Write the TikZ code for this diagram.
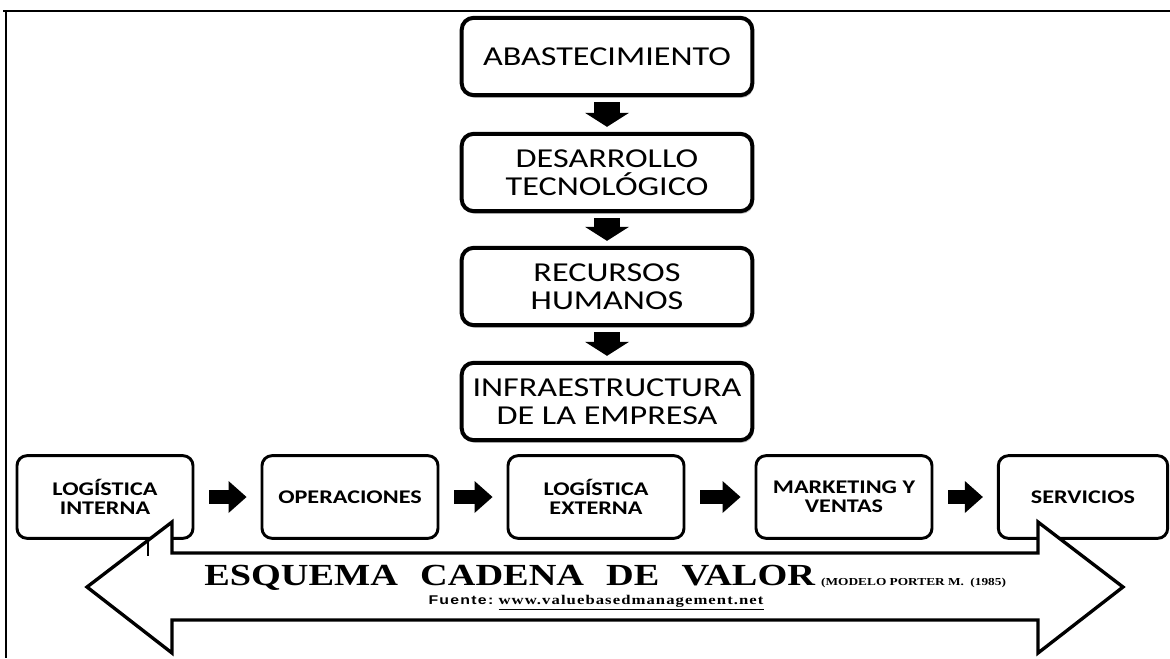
\documentclass[tikz,border=0pt]{standalone}
\usepackage{fontspec}
\usetikzlibrary{arrows.meta,shadows}
\newfontfamily\calibri[FakeStretch=1.25]{Carlito}
\newfontfamily\tiempos[FakeStretch=1.25]{Liberation Serif}
\newfontfamily\arialfont[FakeStretch=1.25]{Liberation Sans}
\tikzset{
  apoyo/.style={draw, line width=3pt, rounded corners=9pt, fill=white,
    minimum width=218pt, minimum height=58pt, align=center, inner sep=0pt,
    font=\calibri\fontsize{20.5}{21}\selectfont,
    drop shadow={shadow xshift=1pt, shadow yshift=-2pt, opacity=.5}},
  primaria/.style={draw, line width=2.2pt, rounded corners=7.5pt, fill=white,
    minimum width=132pt, minimum height=62pt, align=center, inner sep=0pt,
    font=\calibri\bfseries\fontsize{14.5}{14.5}\selectfont},
  vflecha/.style={line width=19.5pt,
    -{Triangle[width=33pt,length=10.5pt,line width=0pt]},
    shorten <=3.75pt, shorten >=3.75pt},
  hflecha/.style={line width=11pt,
    -{Triangle[width=24pt,length=13.5pt,line width=0pt]},
    shorten <=11.25pt, shorten >=10.5pt}
}
\begin{document}
\begin{tikzpicture}[x=0.75pt, y=-0.75pt]
  \useasboundingbox (0,0) rectangle (1170,658);
  % marco
  \draw [line width=2.2pt] (3,11) -- (1170,11);
  \draw [line width=2pt] (6,11) -- (6,658);

  % actividades de apoyo
  \node [apoyo] (abas) at (607,56.5) {ABASTECIMIENTO};
  \node [apoyo] (desa) at (607,172.5) {DESARROLLO\\TECNOLÓGICO};
  \node [apoyo] (recu) at (607,286.5) {RECURSOS\\HUMANOS};
  \node [apoyo] (infr) at (607,401.5) {INFRAESTRUCTURA\\DE LA EMPRESA};
  \draw [vflecha] (abas) -- (desa);
  \draw [vflecha] (desa) -- (recu);
  \draw [vflecha] (recu) -- (infr);

  % actividades primarias
  \node [primaria] (lint) at (105,497) {LOGÍSTICA\\INTERNA};
  \node [primaria] (oper) at (350,497) {OPERACIONES};
  \node [primaria] (lext) at (596,497) {LOGÍSTICA\\EXTERNA};
  \node [primaria] (mark) at (844,497) {MARKETING Y\\VENTAS};
  \node [primaria, minimum width=127pt] (serv) at (1083,497) {SERVICIOS};
  \draw [hflecha] (lint) -- (oper);
  \draw [hflecha] (oper) -- (lext);
  \draw [hflecha] (lext) -- (mark);
  \draw [hflecha] (mark) -- (serv);

  % flecha doble
  \draw [line width=2.5pt, fill=white, miter limit=10]
    (87,587) -- (172,522) -- (172,553) -- (1038,553) -- (1038,522)
    -- (1123,587) -- (1038,653) -- (1038,620) -- (172,620) -- (172,653) -- cycle;
  \draw [line width=1.6pt] (148,541) -- (148,556);

  % titulo
  \node [anchor=base west, inner sep=0pt] (esq) at (204,585)
    {\tiempos\bfseries\fontsize{23}{23}\selectfont
     ESQUEMA\hspace{0.72em}CADENA\hspace{0.72em}DE\hspace{0.72em}VALOR\hspace{0.2em}{\fontsize{8}{8}\selectfont(MODELO PORTER M.\hspace{0.6em}(1985)}};
  \node [anchor=base, inner sep=0pt] (fue) at (596,604)
    {{\arialfont\bfseries\addfontfeature{LetterSpace=10}\fontsize{9.5}{9.5}\selectfont Fuente:}\hspace{0.4em}{\tiempos\bfseries\addfontfeature{LetterSpace=8}\fontsize{10}{10}\selectfont\underline{www.valuebasedmanagement.net}}};
\end{tikzpicture}
\end{document}
